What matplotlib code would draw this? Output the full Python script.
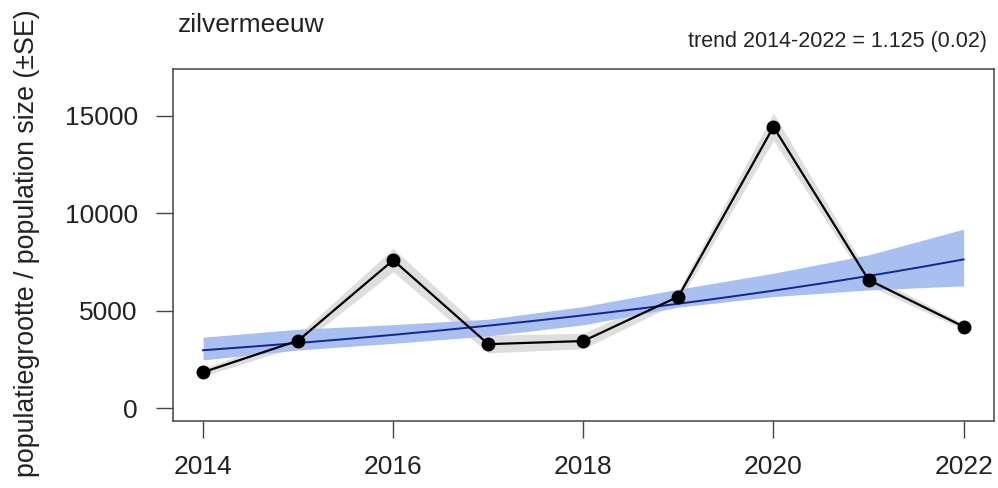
import numpy as np
import matplotlib
matplotlib.use("Agg")
import matplotlib.pyplot as plt

plt.rcParams['font.family'] = ['Liberation Sans', 'DejaVu Sans']

# counts per year with standard errors
years = [2014, 2015, 2016, 2017, 2018, 2019, 2020, 2021, 2022]
counts = [1850, 3470, 7600, 3290, 3450, 5730, 14440, 6590, 4190]
se = [200, 300, 600, 450, 400, 300, 700, 300, 150]

# trend model: start level and yearly multiplicative trend
trend_start = 2977
trend_rate = 1.125
ci_lower = [2480, 2990, 3330, 3710, 4280, 5190, 5730, 6070, 6280]
ci_upper = [3645, 4055, 4290, 4570, 5220, 6110, 6930, 7870, 9190]

fig = plt.figure(figsize=(9.98, 4.88), dpi=100)
ax = fig.add_axes([0.173, 0.138, 0.823, 0.721])

yrs = np.array(years)
cnt = np.array(counts)
err = np.array(se)

ax.fill_between(yrs, cnt - err, cnt + err, color='#dedede', lw=0, zorder=1)
ax.fill_between(yrs, ci_lower, ci_upper, color='#a9bff0', lw=0, zorder=2)
xs = np.linspace(years[0], years[-1], 200)
ax.plot(xs, trend_start * trend_rate ** (xs - years[0]), color='#14238f', lw=1.4, zorder=3)
ax.plot(yrs, cnt, color='black', lw=1.6, zorder=4)
ax.plot(yrs, cnt, 'o', color='black', ms=9, zorder=5)

ax.set_xlim(2013.68, 2022.32)
ax.set_ylim(-636, 17418)
ax.set_xticks([2014, 2016, 2018, 2020, 2022])
ax.set_yticks([0, 5000, 10000, 15000])
ax.tick_params(axis='both', direction='out', length=12, width=1, color='#444444',
               labelsize=19, labelcolor='#222222', pad=13)
for s in ax.spines.values():
    s.set_color('#444444')
    s.set_linewidth(1.1)

fig.text(27 / 998, 0.501, 'populatiegrootte / population size (±SE)', fontsize=19.3,
         color='#222222', rotation=90, ha='center', va='center')

fig.text(0.178, 0.934, 'zilvermeeuw', fontsize=19, color='#222222', ha='left', va='baseline')
fig.text(0.989, 0.904, 'trend 2014-2022 = 1.125 (0.02)', fontsize=15.5, color='#222222',
         ha='right', va='baseline')

fig.savefig('out.png', dpi=100)
